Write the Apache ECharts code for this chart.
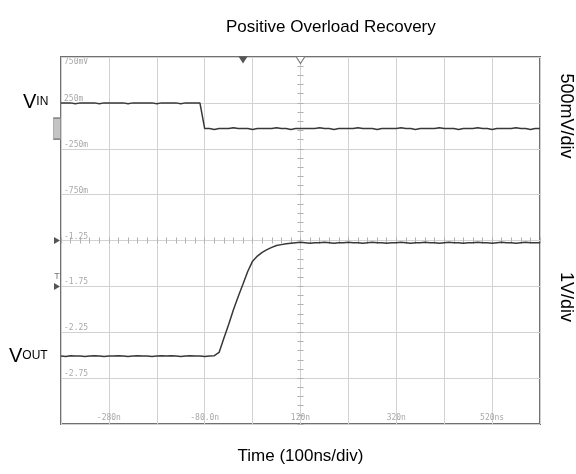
<!DOCTYPE html>
<html>
<head>
<meta charset="utf-8">
<script src="https://cdn.jsdelivr.net/npm/echarts@6/dist/echarts.min.js"></script>
<style>
  html, body { margin: 0; padding: 0; background: #ffffff; }
  #chart { width: 576px; height: 474px; }
</style>
</head>
<body>
<div id="chart"></div>
<script>
// ---- Data ----
const timeNs = [-380,-370,-360,-350,-340,-330,-320,-310,-300,-290,-280,-270,-260,-250,-240,-230,-220,-210,-200,-190,
  -180,-170,-160,-150,-140,-130,-120,-110,-100,-90,-80,-70,-60,-50,-40,-30,-20,-10,0,10,
  20,30,40,50,60,70,80,90,100,110,120,130,140,150,160,170,180,190,200,210,
  220,230,240,250,260,270,280,290,300,310,320,330,340,350,360,370,380,390,400,410,
  420,430,440,450,460,470,480,490,500,510,520,530,540,550,560,570,580,590,600,610,620];

// VIN trace, in the volts of the 500mV/div scale labels
const vinV = [0.25,0.25,0.25,0.24,0.25,0.25,0.25,0.25,0.24,0.25,
  0.25,0.25,0.25,0.25,0.24,0.25,0.25,0.25,0.25,0.25,
  0.24,0.25,0.25,0.25,0.25,0.24,0.25,0.25,0.25,0.25,
  -0.03,-0.03,-0.04,-0.03,-0.03,-0.03,-0.02,-0.03,-0.03,-0.03,
  -0.04,-0.03,-0.03,-0.03,-0.03,-0.02,-0.03,-0.03,-0.04,-0.03,
  -0.03,-0.03,-0.03,-0.03,-0.02,-0.03,-0.03,-0.04,-0.03,-0.03,
  -0.03,-0.03,-0.02,-0.03,-0.03,-0.03,-0.04,-0.03,-0.03,-0.03,
  -0.03,-0.02,-0.03,-0.03,-0.04,-0.03,-0.03,-0.03,-0.03,-0.02,
  -0.03,-0.03,-0.03,-0.04,-0.03,-0.03,-0.03,-0.02,-0.03,-0.03,
  -0.04,-0.03,-0.03,-0.03,-0.03,-0.02,-0.03,-0.03,-0.04,-0.03,
  -0.03];

// VOUT trace, volts at 1V/div (ground at centre line)
const voutV = [-2.52,-2.53,-2.51,-2.52,-2.52,-2.53,-2.52,-2.51,-2.52,-2.53,
  -2.52,-2.52,-2.51,-2.52,-2.53,-2.52,-2.51,-2.52,-2.52,-2.53,
  -2.52,-2.51,-2.52,-2.51,-2.52,-2.53,-2.52,-2.51,-2.52,-2.52,
  -2.53,-2.52,-2.51,
  -2.44,-2.13,-1.83,-1.51,-1.22,-0.95,-0.67,-0.45,-0.34,-0.26,-0.20,-0.15,-0.11,-0.09,-0.07,-0.06,
  -0.05,-0.04,-0.05,-0.06,-0.05,-0.05,-0.04,-0.05,-0.06,-0.05,
  -0.05,-0.04,-0.05,-0.05,-0.06,-0.05,-0.04,-0.05,-0.05,-0.06,
  -0.05,-0.05,-0.04,-0.05,-0.06,-0.05,-0.05,-0.04,-0.05,-0.05,
  -0.06,-0.05,-0.04,-0.05,-0.05,-0.06,-0.05,-0.05,-0.04,-0.05,
  -0.05,-0.06,-0.05,-0.04,-0.05,-0.05,-0.06,-0.05,-0.04,-0.05,
  -0.05,-0.05];

const xTickValues = [-280, -80, 120, 320, 520];
const xTickLabels = ['-280n', '-80.0n', '120n', '320n', '520ns'];
const yTickValues = [0.75, 0.25, -0.25, -0.75, -1.25, -1.75, -2.25, -2.75];
const yTickLabels = ['750mV', '250m', '-250m', '-750m', '-1.25', '-1.75', '-2.25', '-2.75'];

const triggerTimeNs = 0;
const refTimeNs = 120;
const vinGround = -0.03;
const voutGround = 0;
const triggerLevel = -1.0;

// ---- Chart ----
const chart = echarts.init(document.getElementById('chart'), null, { renderer: 'canvas' });
const sans = 'Liberation Sans, Arial, sans-serif';
const mono = 'DejaVu Sans Mono, monospace';
const labelGray = '#a8a8a8';
const gridGray = '#d2d2d2';
const traceColor = '#383838';

function findLabel(values, labels, v) {
  for (let i = 0; i < values.length; i++) {
    if (Math.abs(values[i] - v) < 1e-6) return labels[i];
  }
  return '';
}

const centerTickX = (inside) => ({
  type: 'value', min: -380, max: 620, interval: 20, position: 'bottom', offset: -183.5,
  axisLine: { show: false, onZero: false },
  axisTick: { show: true, inside: inside, length: 3, lineStyle: { color: '#b0b0b0', width: 1 } },
  axisLabel: { show: false }, splitLine: { show: false }
});
const centerTickY = (inside) => ({
  type: 'value', min: -4, max: 4, interval: 0.2, position: 'left', offset: -239.5,
  axisLine: { show: false, onZero: false },
  axisTick: { show: true, inside: inside, length: 3, lineStyle: { color: '#b0b0b0', width: 1 } },
  axisLabel: { show: false }, splitLine: { show: false }
});

const option = {
  backgroundColor: '#ffffff',
  animation: false,
  grid: { left: 61, right: 36, top: 57, bottom: 50, show: true, borderColor: '#707070', borderWidth: 2, backgroundColor: 'transparent' },
  xAxis: [
    {
      type: 'value', min: -380, max: 620, interval: 100, position: 'bottom',
      axisLine: { show: false, onZero: false }, axisTick: { show: false },
      splitLine: { show: true, lineStyle: { color: gridGray, width: 1 } },
      axisLabel: {
        inside: true, margin: 2, color: labelGray, fontFamily: mono, fontSize: 8,
        showMinLabel: false, showMaxLabel: false,
        formatter: (v) => findLabel(xTickValues, xTickLabels, v)
      },
      name: 'Time (100ns/div)', nameLocation: 'middle', nameGap: 24,
      nameTextStyle: { fontFamily: sans, fontSize: 17, color: '#000', verticalAlign: 'top' }
    },
    centerTickX(false),
    centerTickX(true)
  ],
  yAxis: [
    {
      type: 'value', min: -3.25, max: 0.75, interval: 0.5, position: 'left',
      axisLine: { show: false, onZero: false }, axisTick: { show: false },
      splitLine: { show: true, lineStyle: { color: gridGray, width: 1 } },
      axisLabel: {
        inside: true, margin: 3, color: labelGray, fontFamily: mono, fontSize: 8,
        verticalAlign: 'bottom', showMinLabel: false, showMaxLabel: false,
        formatter: (v) => (Math.abs(v - yTickValues[0]) < 1e-6 ? '' : findLabel(yTickValues, yTickLabels, v))
      }
    },
    { type: 'value', min: -4, max: 4, show: false, axisLine: { onZero: false } },
    centerTickY(false),
    centerTickY(true)
  ],
  series: [
    {
      name: 'VIN', type: 'line', xAxisIndex: 0, yAxisIndex: 0, symbol: 'none',
      data: timeNs.map((t, i) => [t, vinV[i]]),
      lineStyle: { color: traceColor, width: 1.5 },
      markPoint: {
        silent: true, label: { show: false },
        data: [
          { coord: [triggerTimeNs, 0.75], symbol: 'triangle', symbolRotate: 180, symbolSize: [9, 7], symbolOffset: [0, 3], itemStyle: { color: '#555' } },
          { coord: [refTimeNs, 0.75], symbol: 'triangle', symbolRotate: 180, symbolSize: [9, 7], symbolOffset: [0, 3], itemStyle: { color: '#fff', borderColor: '#777', borderWidth: 1 } },
          { coord: [-380, vinGround], symbol: 'rect', symbolSize: [7, 21], symbolOffset: [-4, 0], itemStyle: { color: '#c4c4c4', borderColor: '#8a8a8a', borderWidth: 1 } }
        ]
      }
    },
    {
      name: 'VOUT', type: 'line', xAxisIndex: 0, yAxisIndex: 1, symbol: 'none',
      data: timeNs.map((t, i) => [t, voutV[i]]),
      lineStyle: { color: traceColor, width: 1.5 },
      markPoint: {
        silent: true,
        data: [
          { coord: [-380, voutGround], symbol: 'triangle', symbolRotate: -90, symbolSize: [7, 6], symbolOffset: [-4, 0], itemStyle: { color: '#555' }, label: { show: false } },
          { coord: [-380, triggerLevel], symbol: 'triangle', symbolRotate: -90, symbolSize: [7, 6], symbolOffset: [-4, 0], itemStyle: { color: '#555' },
            label: { show: true, formatter: 'T', position: 'top', distance: 2, color: '#777', fontSize: 9, fontFamily: sans } }
        ]
      }
    }
  ],
  graphic: [
    { type: 'text', left: 226, top: 19, style: { text: 'Positive Overload Recovery', font: '17px ' + sans, fill: '#000' } },
    { type: 'text', x: 64, y: 58, style: { text: yTickLabels[0], font: '8px ' + mono, fill: labelGray, verticalAlign: 'top' } },
    { type: 'text', x: 23, y: 112, style: {
        text: '{v|V}{s|IN}', verticalAlign: 'bottom',
        rich: { v: { fontSize: 20, fontFamily: sans, fill: '#000' }, s: { fontSize: 12, fontFamily: sans, fill: '#000', padding: [0, 0, 1, 0] } }
      } },
    { type: 'text', x: 9, y: 366, style: {
        text: '{v|V}{s|OUT}', verticalAlign: 'bottom',
        rich: { v: { fontSize: 20, fontFamily: sans, fill: '#000' }, s: { fontSize: 12, fontFamily: sans, fill: '#000', padding: [0, 0, 1, 0] } }
      } },
    { type: 'text', x: 566, y: 116, rotation: -Math.PI / 2, style: { text: '500mV/div', font: '18px ' + sans, fill: '#000', align: 'center', verticalAlign: 'middle' } },
    { type: 'text', x: 566, y: 297, rotation: -Math.PI / 2, style: { text: '1V/div', font: '18px ' + sans, fill: '#000', align: 'center', verticalAlign: 'middle' } }
  ]
};
chart.setOption(option);
</script>
</body>
</html>
